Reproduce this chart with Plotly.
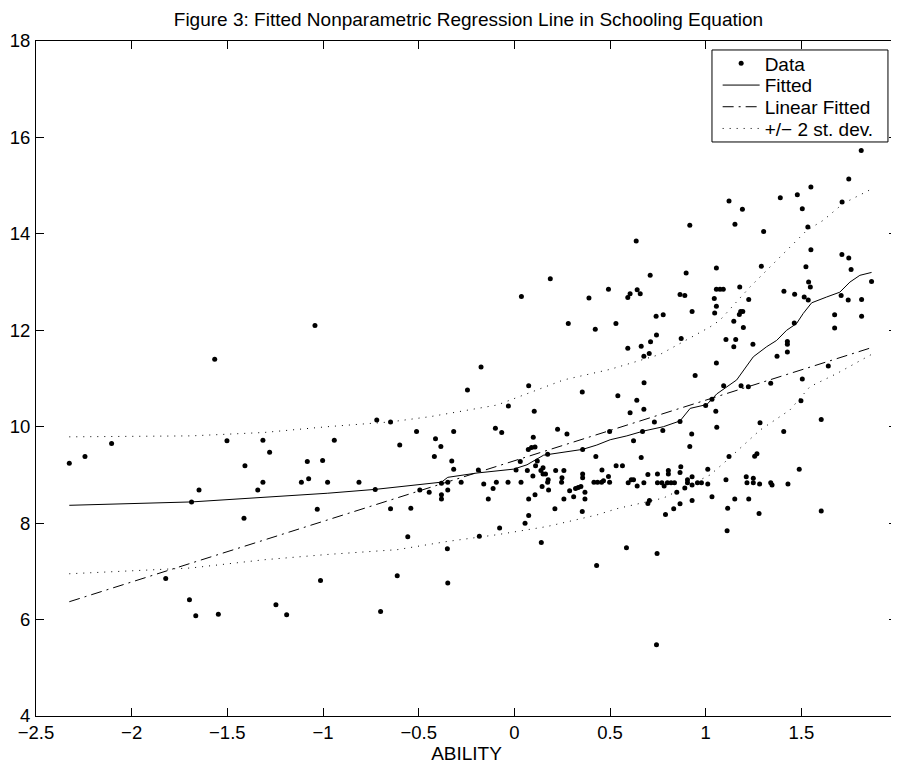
import plotly.graph_objects as go

# ---- Data ----
ability = [
    -1.042, -1.566, -2.326, -2.244, -2.105, -1.502, -1.314, -1.279, -1.408, -1.648,
    -1.687, -1.341, -1.314, -1.413, -1.082, -1.002, -1.113, -1.075, -0.976, -1.030,
    -1.822, -1.698, -1.013, -1.665, -1.547, -1.246, -1.190,
    0.188, 0.037, 0.492, 0.390, 0.282, 0.423, 0.531, -0.174, -0.245, 0.075,
    0.355, 0.541, -0.031, 0.104, -0.719, -0.647, -0.941, -0.599, -0.511, -0.317,
    -0.412, -0.384, -0.418, -0.327, -0.317, -0.099, -0.066, 0.099, 0.226, 0.275,
    0.498, 0.073, 0.090, 0.108, 0.174, 0.357, 0.426, 0.031, 0.120, -0.188,
    0.532, 0.458,
    -0.812, -0.727, -0.494, -0.445, -0.381, -0.348, -0.348, -0.381, -0.381, -0.278,
    -0.160, -0.111, -0.094, -0.033, 0.035, -0.136, 0.009, 0.068, 0.097, 0.111,
    0.139, 0.150, 0.150, 0.163, 0.177, 0.174, 0.145, 0.179, 0.108, 0.075,
    0.216, 0.259, 0.249, 0.247, 0.289, 0.259, 0.310, 0.320, 0.334, 0.348,
    0.357, 0.357, 0.369, 0.369, 0.355, 0.212, 0.075, 0.056, -0.077, -0.183,
    0.141, 0.416, 0.435, 0.456, 0.466, 0.498, 0.492, 0.430, -0.647, -0.541,
    -0.557, -0.350, -0.612, -0.348, -0.699,
    1.813, 1.748, 1.550, 1.479, 1.390, 1.122, 1.192, 1.505, 1.713, 0.917,
    1.153, 1.303, 1.534, 0.637, 1.550, 1.712, 1.748, 1.760, 1.867, 0.710,
    0.898, 1.056, 1.291, 1.524, 1.538, 1.547, 0.605, 0.593, 0.642, 0.658,
    0.866, 0.891, 1.056, 1.075, 1.092, 1.045, 1.056, 1.178, 1.225, 1.409,
    1.465, 1.515, 1.536, 1.708, 1.745, 1.815, 0.741, 0.778, 0.929, 1.047,
    1.176, 1.183, 1.194, 1.674, 1.815,
    1.147, 1.197, 1.463, 1.674, 0.743, 0.712, 0.872, 0.663, 0.593, 0.705,
    0.677, 1.106, 1.157, 1.147, 1.247, 1.427, 1.427, 1.427, 1.373, 1.056,
    1.641, 0.945, 0.678, 1.505, 1.340, 1.094, 1.185, 1.223, 0.640, 1.033,
    1.498, 0.605, 0.677, 1.000, 1.053, 0.732, 0.866, 1.604, 1.284, 0.670,
    0.776, 1.058, 0.927, 1.408, 0.623, 0.917, 0.663, 1.122, 1.256, 1.268,
    0.565, 0.595, 0.611, 0.623, 0.642, 0.677, 0.698, 0.748, 0.748, 0.771,
    0.783, 0.805, 0.805, 0.800, 0.819, 0.837, 0.870, 0.866, 0.929, 0.905,
    0.905, 0.929, 0.891, 0.957, 0.978, 1.011, 1.011, 1.106, 1.212, 1.249,
    1.216, 1.249, 1.282, 1.340, 1.347, 1.430, 1.489, 0.849, 0.706, 0.698,
    0.866, 0.929, 0.833, 0.790, 1.033, 1.152, 1.225, 1.115, 1.279, 1.604,
    1.112, 0.586, 0.746, 0.743,
]
schooling = [
    12.10, 11.40, 9.24, 9.38, 9.65, 9.71, 9.72, 9.47, 9.19, 8.69,
    8.44, 8.69, 8.85, 8.10, 9.28, 9.30, 8.85, 8.92, 8.85, 8.29,
    6.85, 6.41, 6.81, 6.08, 6.11, 6.31, 6.10,
    13.07, 12.70, 12.85, 12.67, 12.14, 12.02, 12.14, 11.24, 10.76, 10.85,
    10.72, 10.64, 10.43, 10.32, 10.14, 10.10, 9.72, 9.62, 9.90, 9.90,
    9.75, 9.59, 9.38, 9.29, 9.12, 9.97, 9.88, 9.78, 9.95, 9.85,
    9.90, 9.53, 9.57, 9.58, 9.43, 9.53, 9.38, 9.28, 9.29, 9.10,
    9.19, 9.10,
    8.85, 8.70, 8.69, 8.64, 8.83, 8.85, 8.69, 8.59, 8.50, 8.85,
    8.81, 8.72, 8.85, 8.85, 8.85, 8.50, 9.10, 9.09, 8.98, 9.19,
    9.09, 9.15, 9.02, 9.02, 8.90, 8.85, 8.76, 8.69, 8.59, 8.50,
    9.09, 9.09, 8.94, 8.85, 8.67, 8.50, 8.55, 8.72, 8.74, 8.76,
    9.02, 8.94, 8.64, 8.50, 8.24, 8.30, 8.16, 8.00, 7.90, 7.73,
    7.60, 8.85, 8.85, 8.85, 8.88, 8.85, 8.97, 7.12, 8.30, 8.31,
    7.72, 7.47, 6.91, 6.76, 6.17,
    15.73, 15.14, 14.97, 14.81, 14.75, 14.68, 14.51, 14.52, 14.66, 14.18,
    14.20, 14.05, 14.14, 13.85, 13.67, 13.57, 13.50, 13.26, 13.01, 13.14,
    13.19, 13.29, 13.33, 13.32, 13.00, 12.90, 12.76, 12.68, 12.84, 12.76,
    12.74, 12.72, 12.85, 12.85, 12.85, 12.66, 12.50, 12.90, 12.64, 12.81,
    12.75, 12.69, 12.63, 12.72, 12.63, 12.64, 12.29, 12.32, 12.39, 12.36,
    12.33, 12.39, 12.39, 12.32, 12.29,
    12.19, 12.06, 12.15, 12.05, 11.90, 11.76, 11.83, 11.67, 11.63, 11.52,
    11.46, 11.81, 11.81, 11.66, 11.71, 11.77, 11.71, 11.55, 11.46, 11.32,
    11.26, 11.06, 10.91, 10.99, 10.90, 10.85, 10.85, 10.83, 10.55, 10.57,
    10.54, 10.29, 10.36, 10.44, 10.32, 10.10, 10.11, 10.15, 10.08, 9.90,
    9.92, 9.99, 9.85, 9.90, 9.71, 9.59, 9.36, 9.38, 9.39, 9.44,
    9.19, 8.84, 8.90, 8.90, 8.77, 8.84, 9.01, 9.02, 8.84, 8.84,
    8.77, 9.09, 9.02, 8.84, 8.84, 8.84, 9.17, 9.05, 8.96, 8.90,
    8.84, 8.79, 8.73, 8.84, 8.84, 9.12, 8.81, 8.90, 8.96, 8.93,
    8.84, 8.84, 8.81, 8.84, 8.79, 8.81, 9.12, 8.64, 8.47, 8.41,
    8.40, 8.47, 8.30, 8.18, 8.55, 8.50, 8.50, 8.31, 8.20, 8.25,
    7.84, 7.49, 7.37, 5.48,
]

fit_x = [-2.326, -1.687, -0.978, -0.727, -0.381, -0.348, -0.195, -0.004, 0.066, 0.153,
         0.357, 0.431, 0.501, 0.588, 0.675, 0.779, 0.866, 0.919, 1.006, 1.058,
         1.162, 1.197, 1.249, 1.319, 1.371, 1.423, 1.475, 1.510, 1.554, 1.632,
         1.701, 1.754, 1.806, 1.867]
fit_y = [8.37, 8.44, 8.62, 8.70, 8.85, 8.95, 9.04, 9.12, 9.21, 9.41,
         9.53, 9.62, 9.73, 9.81, 9.91, 10.00, 10.12, 10.38, 10.46, 10.68,
         10.97, 11.17, 11.45, 11.66, 11.79, 12.00, 12.14, 12.35, 12.57, 12.69,
         12.79, 13.00, 13.14, 13.20]

lin_x = [-2.326, 1.867]
lin_y = [6.37, 11.64]

upper_x = [-2.326, -1.69, -1.31, -0.978, -0.647, -0.438, -0.09, 0.257, 0.501, 0.762,
           1.023, 1.075, 1.232, 1.371, 1.528, 1.614, 1.719, 1.867]
upper_y = [9.79, 9.81, 9.88, 10.00, 10.10, 10.21, 10.45, 10.97, 11.19, 11.50,
           12.07, 12.21, 12.90, 13.45, 14.07, 14.28, 14.63, 14.93]

lower_x = [-2.326, -1.69, -1.31, -0.978, -0.612, -0.351, -0.09, 0.171, 0.431, 0.536,
           0.779, 1.023, 1.110, 1.284, 1.441, 1.545, 1.684, 1.867]
lower_y = [6.95, 7.07, 7.24, 7.35, 7.45, 7.62, 7.76, 7.93, 8.17, 8.30,
           8.52, 9.00, 9.30, 9.93, 10.35, 10.83, 11.10, 11.50]

x_ticks = [-2.5, -2, -1.5, -1, -0.5, 0, 0.5, 1, 1.5, 2]
x_tick_labels = ["\u22122.5", "\u22122", "\u22121.5", "\u22121", "\u22120.5", "0", "0.5", "1", "1.5", "2"]
y_ticks = [4, 6, 8, 10, 12, 14, 16, 18]
legend_names = ["Data", "Fitted", "Linear Fitted", "+/\u2212 2 st. dev."]

FONT = "Liberation Sans, Arial, Helvetica, sans-serif"

fig = go.Figure()
fig.add_trace(go.Scatter(x=ability, y=schooling, mode="markers", name=legend_names[0],
                         legend="legend", marker=dict(color="black", size=5)))
fig.add_trace(go.Scatter(x=fit_x, y=fit_y, mode="lines", name=legend_names[1],
                         legend="legend2", line=dict(color="black", width=1)))
fig.add_trace(go.Scatter(x=lin_x, y=lin_y, mode="lines", name=legend_names[2],
                         legend="legend3",
                         line=dict(color="black", width=1, dash="11px,5px,2px,5px")))
fig.add_trace(go.Scatter(x=upper_x, y=upper_y, mode="lines", name=legend_names[3],
                         legend="legend4", legendgroup="sd",
                         line=dict(color="black", width=1, dash="1px,6px")))
fig.add_trace(go.Scatter(x=lower_x, y=lower_y, mode="lines", name=legend_names[3],
                         legend="legend4", legendgroup="sd", showlegend=False,
                         line=dict(color="black", width=1, dash="1px,6px")))

axis_common = dict(showline=True, linecolor="black", linewidth=1, mirror="ticks",
                   ticks="inside", ticklen=8, tickcolor="black", tickwidth=1,
                   showgrid=False, zeroline=False, automargin=False,
                   ticklabeloverflow="allow",
                   tickfont=dict(family=FONT, size=18.5, color="black"))

def leg(yc):
    return dict(x=0.7917, xanchor="left", y=yc, yanchor="middle",
                bgcolor="rgba(0,0,0,0)", borderwidth=0, itemwidth=37,
                font=dict(family=FONT, size=19, color="black"))

# The page body adds an 8px offset; the figure is sized to fill the rest of the window.
fig.update_layout(
    width=891, height=756,
    margin=dict(l=28, r=2, t=33, b=48),
    paper_bgcolor="white", plot_bgcolor="white",
    font=dict(family=FONT, size=18, color="black"),
    title=dict(text="Figure 3: Fitted Nonparametric Regression Line in Schooling Equation",
               x=0.5168, xanchor="center", y=0.9848, yanchor="middle", yref="container",
               font=dict(family=FONT, size=19, color="black")),
    xaxis=dict(range=[-2.5, 2], tickvals=x_ticks, ticktext=x_tick_labels,
               title=dict(text="ABILITY", font=dict(family=FONT, size=19), standoff=4),
               ticklabelstandoff=0, **axis_common),
    yaxis=dict(range=[4, 18], tickvals=y_ticks, ticklabelstandoff=1, **axis_common),
    legend=leg(0.9667),
    legend2=leg(0.9345),
    legend3=leg(0.9024),
    legend4=leg(0.8702),
    shapes=[dict(type="rect", xref="paper", yref="paper",
                 x0=0.7851, x1=0.9895, y0=0.8504, y1=0.9867,
                 fillcolor="white", line=dict(color="black", width=1), layer="above")],
    showlegend=True,
)

fig.write_html("out.html")
